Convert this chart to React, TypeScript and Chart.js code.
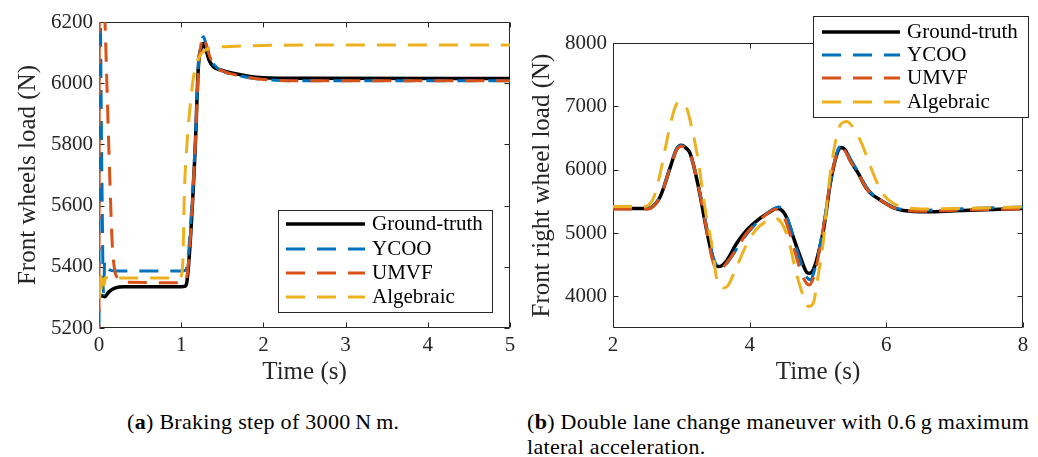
import React, { useEffect, useRef } from "react";
import { Chart, registerables } from "chart.js";

Chart.register(...registerables);

// ---------- shared series info ----------
const seriesNames = ["Ground-truth", "YCOO", "UMVF", "Algebraic"];
const seriesColors = ["#000000", "#0072BD", "#D95319", "#EDB120"];

// ---------- plot (a): braking step ----------
const aXTicks = [0, 1, 2, 3, 4, 5];
const aYTicks = [5200, 5400, 5600, 5800, 6000, 6200];

const aGtT = [0, 0.03, 0.07, 0.12, 0.2, 0.3, 1.0, 1.05, 1.07, 1.11, 1.17, 1.21, 1.25, 1.27, 1.3, 1.34, 1.39, 1.5, 1.63, 1.8, 2.0, 2.5, 5.0];
const aGtV = [5300, 5306, 5302, 5318, 5331, 5335, 5335, 5337, 5352, 5482, 5786, 6058, 6120, 6130, 6110, 6075, 6054, 6042, 6033, 6024, 6018, 6016, 6015];

const aYcooT = [0, 0.005, 0.035, 0.055, 0.07, 0.1, 0.2, 1.0, 1.05, 1.08, 1.12, 1.17, 1.21, 1.25, 1.27, 1.3, 1.35, 1.4, 1.5, 1.7, 2.0, 2.5, 5.0];
const aYcooV = [5100, 6400, 5700, 5310, 5420, 5395, 5386, 5386, 5388, 5420, 5560, 5800, 6060, 6140, 6152, 6130, 6085, 6060, 6040, 6025, 6012, 6008, 6008];

const aUmvfT = [0, 0.004, 0.04, 0.07, 0.1, 0.13, 0.16, 0.19, 0.23, 0.3, 1.0, 1.05, 1.08, 1.12, 1.17, 1.21, 1.25, 1.27, 1.3, 1.35, 1.4, 1.5, 1.7, 2.0, 2.5, 5.0];
const aUmvfV = [5150, 6400, 6350, 6220, 5960, 5700, 5480, 5390, 5362, 5350, 5348, 5350, 5390, 5530, 5790, 6050, 6140, 6152, 6130, 6085, 6060, 6040, 6025, 6012, 6008, 6008];

const aAlgT = [0, 0.01, 0.02, 0.03, 0.045, 0.06, 0.08, 0.12, 0.2, 0.97, 1.0, 1.02, 1.04, 1.07, 1.1, 1.15, 1.21, 1.29, 1.39, 1.6, 1.8, 2.2, 3.0, 5.0];
const aAlgV = [5350, 5300, 5370, 5320, 5360, 5340, 5366, 5360, 5363, 5363, 5370, 5420, 5650, 5800, 5900, 6021, 6081, 6108, 6116, 6120, 6122, 6124, 6125, 6125];

// ---------- plot (b): double lane change ----------
const bXTicks = [2, 4, 6, 8];
const bYTicks = [4000, 5000, 6000, 7000, 8000];

const bGtT = [2.0, 2.5, 2.56, 2.69, 2.84, 2.93, 3.0, 3.07, 3.13, 3.25, 3.37, 3.47, 3.54, 3.6, 3.67, 3.81, 3.96, 4.15, 4.3, 4.4, 4.49, 4.55, 4.62, 4.74, 4.84, 4.88, 4.93, 4.98, 5.08, 5.18, 5.28, 5.34, 5.4, 5.47, 5.59, 5.7, 5.8, 5.9, 6.0, 6.1, 6.25, 6.6, 7.0, 8.0];
const bGtV = [5385, 5385, 5400, 5572, 6045, 6320, 6386, 6340, 6255, 5730, 5047, 4575, 4470, 4490, 4575, 4837, 5047, 5230, 5336, 5390, 5336, 5220, 4995, 4627, 4375, 4365, 4420, 4575, 5047, 5782, 6255, 6350, 6310, 6150, 5940, 5720, 5600, 5530, 5460, 5400, 5355, 5335, 5350, 5385];

const bYcooT = [2.0, 2.5, 2.56, 2.69, 2.84, 2.93, 3.0, 3.07, 3.13, 3.25, 3.37, 3.47, 3.56, 3.64, 3.75, 3.9, 4.05, 4.2, 4.33, 4.42, 4.5, 4.58, 4.7, 4.82, 4.89, 4.95, 5.02, 5.1, 5.2, 5.28, 5.34, 5.4, 5.47, 5.59, 5.7, 5.8, 5.9, 6.0, 6.1, 6.25, 6.6, 7.0, 8.0];
const bYcooV = [5400, 5400, 5410, 5580, 6060, 6330, 6380, 6330, 6240, 5760, 5100, 4600, 4450, 4490, 4650, 4900, 5100, 5260, 5370, 5410, 5360, 5150, 4700, 4330, 4260, 4420, 4750, 5250, 5900, 6280, 6380, 6330, 6180, 5960, 5740, 5610, 5540, 5470, 5410, 5370, 5360, 5380, 5410];

const bUmvfT = [2.0, 2.5, 2.56, 2.69, 2.84, 2.93, 3.0, 3.07, 3.13, 3.25, 3.37, 3.45, 3.52, 3.58, 3.67, 3.8, 3.95, 4.1, 4.25, 4.37, 4.46, 4.55, 4.65, 4.77, 4.87, 4.93, 5.0, 5.08, 5.18, 5.27, 5.33, 5.4, 5.47, 5.59, 5.7, 5.8, 5.9, 6.0, 6.1, 6.25, 6.6, 7.0, 8.0];
const bUmvfV = [5380, 5380, 5395, 5570, 6040, 6310, 6370, 6330, 6250, 5740, 5050, 4600, 4420, 4430, 4540, 4732, 4990, 5160, 5300, 5375, 5340, 5120, 4750, 4330, 4180, 4280, 4600, 5100, 5800, 6230, 6333, 6290, 6140, 5940, 5720, 5600, 5530, 5460, 5400, 5360, 5345, 5360, 5380];

const bAlgT = [2.0, 2.45, 2.52, 2.6, 2.69, 2.81, 2.91, 2.96, 3.06, 3.15, 3.25, 3.35, 3.45, 3.52, 3.59, 3.67, 3.79, 3.94, 4.09, 4.28, 4.38, 4.47, 4.57, 4.67, 4.77, 4.86, 4.93, 5.0, 5.08, 5.15, 5.25, 5.34, 5.42, 5.54, 5.64, 5.75, 5.85, 5.95, 6.1, 6.3, 6.6, 7.0, 8.0];
const bAlgV = [5420, 5420, 5440, 5572, 5940, 6570, 6990, 7068, 7016, 6675, 6123, 5362, 4785, 4260, 4128, 4155, 4417, 4785, 5047, 5205, 5230, 5152, 4890, 4417, 4050, 3840, 3890, 4312, 4890, 5677, 6412, 6727, 6760, 6622, 6412, 6100, 5830, 5620, 5470, 5400, 5380, 5385, 5410];

// ---------- helpers ----------
const AXIS_COLOR = "#262626";
const FONT_FAMILY = '"Liberation Serif", "Times New Roman", serif';

function toPoints(t: number[], v: number[]) {
  return t.map((x, i) => ({ x, y: v[i] }));
}

function makeDatasets(series: [number[], number[]][]) {
  return series.map(([t, v], i) => ({
    label: seriesNames[i],
    data: toPoints(t, v),
    borderColor: seriesColors[i],
    backgroundColor: seriesColors[i],
    borderWidth: i === 0 ? 3.5 : 3,
    borderDash: i === 0 ? [] : [19, 12],
    pointRadius: 0,
    fill: false,
    cubicInterpolationMode: "monotone" as const,
    order: 4 - i,
  }));
}

const boxPlugin = {
  id: "matlabBox",
  beforeDatasetsDraw(chart: any) {
    const { ctx, chartArea: a, scales } = chart;
    const L = 5;
    ctx.save();
    ctx.strokeStyle = AXIS_COLOR;
    ctx.lineWidth = 1;
    const l = Math.round(a.left) + 0.5;
    const r = Math.round(a.right) - 0.5;
    const t = Math.round(a.top) + 0.5;
    const b = Math.round(a.bottom) - 0.5;
    ctx.beginPath();
    ctx.rect(l, t, r - l, b - t);
    scales.x.ticks.forEach((tk: any) => {
      const px = Math.round(scales.x.getPixelForValue(tk.value)) + 0.5;
      ctx.moveTo(px, b);
      ctx.lineTo(px, b - L);
      ctx.moveTo(px, t);
      ctx.lineTo(px, t + L);
    });
    scales.y.ticks.forEach((tk: any) => {
      const py = Math.round(scales.y.getPixelForValue(tk.value)) + 0.5;
      ctx.moveTo(l, py);
      ctx.lineTo(l + L, py);
      ctx.moveTo(r, py);
      ctx.lineTo(r - L, py);
    });
    ctx.stroke();
    ctx.restore();
  },
};

const legendPlugin = {
  id: "boxLegend",
  afterDraw(chart: any, _args: any, opts: any) {
    const { ctx } = chart;
    const { x, y, w, h, lineX0, lineX1, textX, rowY } = opts;
    ctx.save();
    ctx.fillStyle = "#ffffff";
    ctx.fillRect(x, y, w, h);
    ctx.strokeStyle = AXIS_COLOR;
    ctx.lineWidth = 1;
    ctx.strokeRect(x + 0.5, y + 0.5, w - 1, h - 1);
    chart.data.datasets.forEach((ds: any, i: number) => {
      const yy = rowY[i];
      ctx.beginPath();
      ctx.strokeStyle = ds.borderColor;
      ctx.lineWidth = ds.borderWidth;
      ctx.setLineDash(ds.borderDash || []);
      ctx.moveTo(lineX0, yy);
      ctx.lineTo(lineX1, yy);
      ctx.stroke();
      ctx.setLineDash([]);
      ctx.fillStyle = "#000000";
      ctx.font = `21px ${FONT_FAMILY}`;
      ctx.textBaseline = "middle";
      ctx.textAlign = "left";
      ctx.fillText(ds.label, textX, yy);
    });
    ctx.restore();
  },
};

type PlotSpec = {
  width: number;
  height: number;
  padTop: number;
  padRight: number;
  yWidth: number;
  xHeight: number;
  xMin: number;
  xMax: number;
  yMin: number;
  yMax: number;
  xTicks: number[];
  yTicks: number[];
  yTitle: string;
  yTitlePad: number;
  datasets: any[];
  legend: any;
};

function buildConfig(p: PlotSpec): any {
  const tickFont = { family: FONT_FAMILY, size: 21 };
  const xTickFont = { family: FONT_FAMILY, size: 21, lineHeight: 1.33 };
  const titleFont = { family: FONT_FAMILY, size: 25 };
  return {
    type: "line",
    data: { datasets: p.datasets },
    plugins: [boxPlugin, legendPlugin],
    options: {
      animation: false,
      responsive: false,
      maintainAspectRatio: false,
      events: [],
      layout: { padding: { left: 0, top: p.padTop, right: p.padRight, bottom: 0 } },
      plugins: {
        legend: { display: false },
        tooltip: { enabled: false },
        boxLegend: p.legend,
      },
      scales: {
        x: {
          type: "linear",
          min: p.xMin,
          max: p.xMax,
          grid: { display: false, drawTicks: false },
          border: { display: false },
          afterBuildTicks: (s: any) => {
            s.ticks = p.xTicks.map((v) => ({ value: v }));
          },
          afterFit: (s: any) => {
            s.height = p.xHeight;
          },
          ticks: {
            font: xTickFont,
            color: AXIS_COLOR,
            padding: 4,
            maxRotation: 0,
            autoSkip: false,
            callback: (v: any) => String(v),
          },
          title: {
            display: true,
            text: "Time (s)",
            font: titleFont,
            color: AXIS_COLOR,
            padding: { top: 0, bottom: 13 },
          },
        },
        y: {
          type: "linear",
          min: p.yMin,
          max: p.yMax,
          grid: { display: false, drawTicks: false },
          border: { display: false },
          afterBuildTicks: (s: any) => {
            s.ticks = p.yTicks.map((v) => ({ value: v }));
          },
          afterFit: (s: any) => {
            s.width = p.yWidth;
          },
          ticks: {
            font: tickFont,
            color: AXIS_COLOR,
            padding: 6,
            autoSkip: false,
            callback: (v: any) => String(v),
          },
          title: {
            display: true,
            text: p.yTitle,
            font: titleFont,
            color: AXIS_COLOR,
            padding: { top: p.yTitlePad, bottom: 0 },
          },
        },
      },
    },
  };
}

function ChartCanvas({ spec, left }: { spec: PlotSpec; left: number }) {
  const ref = useRef<HTMLCanvasElement | null>(null);
  useEffect(() => {
    if (!ref.current) return;
    const chart = new Chart(ref.current, buildConfig(spec));
    return () => chart.destroy();
  }, []);
  return (
    <canvas
      ref={ref}
      width={spec.width}
      height={spec.height}
      style={{ position: "absolute", left, top: 0, width: spec.width, height: spec.height }}
    />
  );
}

const specA: PlotSpec = {
  width: 520,
  height: 400,
  padTop: 22,
  padRight: 10,
  yWidth: 99,
  xHeight: 72,
  xMin: 0,
  xMax: 5,
  yMin: 5200,
  yMax: 6200,
  xTicks: aXTicks,
  yTicks: aYTicks,
  yTitle: "Front wheels load (N)",
  yTitlePad: 13,
  datasets: makeDatasets([
    [aGtT, aGtV],
    [aYcooT, aYcooV],
    [aUmvfT, aUmvfV],
    [aAlgT, aAlgV],
  ]),
  legend: { x: 278, y: 210, w: 215, h: 103, lineX0: 286, lineX1: 365, textX: 372, rowY: [224, 249, 273, 297] },
};

const specB: PlotSpec = {
  width: 518,
  height: 400,
  padTop: 43,
  padRight: 15,
  yWidth: 93,
  xHeight: 72,
  xMin: 2,
  xMax: 8,
  yMin: 3500,
  yMax: 8000,
  xTicks: bXTicks,
  yTicks: bYTicks,
  yTitle: "Front right wheel load (N)",
  yTitlePad: 7,
  datasets: makeDatasets([
    [bGtT, bGtV],
    [bYcooT, bYcooV],
    [bUmvfT, bUmvfV],
    [bAlgT, bAlgV],
  ]),
  legend: { x: 293, y: 16, w: 216, h: 102, lineX0: 302, lineX1: 380, textX: 387, rowY: [32, 55, 78, 102] },
};

export default function App() {
  const capStyle: React.CSSProperties = {
    position: "absolute",
    fontFamily: FONT_FAMILY,
    fontSize: 22,
    letterSpacing: "0.3px",
    lineHeight: "25px",
    whiteSpace: "nowrap",
    color: "#000",
  };
  return (
    <div
      style={{
        position: "absolute",
        left: 0,
        top: 0,
        width: 1038,
        height: 457,
        overflow: "hidden",
        background: "#ffffff",
      }}
    >
      <ChartCanvas spec={specA} left={0} />
      <ChartCanvas spec={specB} left={520} />
      <div style={{ ...capStyle, left: 127, top: 409 }}>
        (<b>a</b>) Braking step of 3000{"\u2009"}N{"\u2009"}m.
      </div>
      <div style={{ ...capStyle, left: 527, top: 409 }}>
        (<b>b</b>) Double lane change maneuver with 0.6{"\u2009"}g maximum
      </div>
      <div style={{ ...capStyle, left: 527, top: 434 }}>lateral acceleration.</div>
    </div>
  );
}
